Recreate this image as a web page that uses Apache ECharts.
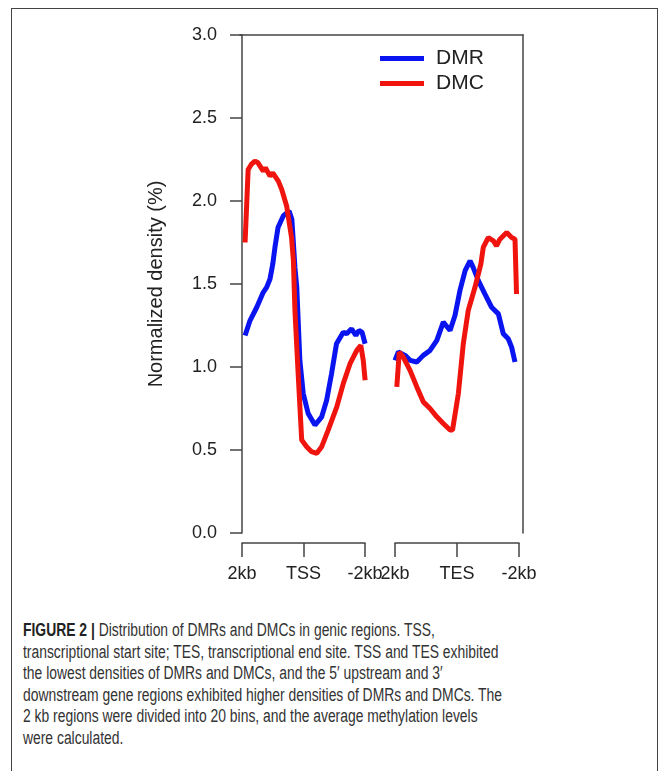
<!DOCTYPE html>
<html>
<head>
<meta charset="utf-8">
<script src="https://cdn.jsdelivr.net/npm/echarts@6/dist/echarts.min.js"></script>
<style>
  html, body { margin: 0; padding: 0; background: #fff; }
  body { width: 670px; height: 771px; position: relative; overflow: hidden; }
  #frame {
    position: absolute; left: 11px; top: 8px; width: 647px; height: 800px;
    border: 1.5px solid #444; box-sizing: border-box;
  }
  #chart { position: absolute; left: 0; top: 0; width: 670px; height: 600px; }
  #caption {
    position: absolute; left: 23px; top: 620px;
    font-family: "Liberation Sans", Arial, sans-serif; font-size: 18px;
    line-height: 21.6px; color: #333; white-space: nowrap;
  }
  #caption .line { display: block; transform-origin: 0 0; }
  #caption b { color: #222; }
</style>
</head>
<body>
<div id="frame"></div>
<div id="chart"></div>
<div id="caption">
  <span class="line"><b>FIGURE 2 |</b> Distribution of DMRs and DMCs in genic regions. TSS,</span>
  <span class="line">transcriptional start site; TES, transcriptional end site. TSS and TES exhibited</span>
  <span class="line">the lowest densities of DMRs and DMCs, and the 5′ upstream and 3′</span>
  <span class="line">downstream gene regions exhibited higher densities of DMRs and DMCs. The</span>
  <span class="line">2 kb regions were divided into 20 bins, and the average methylation levels</span>
  <span class="line">were calculated.</span>
</div>
<script>
// bins: 0..40 = 2kb upstream -> TSS -> 2kb downstream, 50..90 = 2kb before TES -> TES -> 2kb after
const tssLabels = ['2kb', 'TSS', '-2kb']
const tesLabels = ['2kb', 'TES', '-2kb']
const yTicks = { min: 0, max: 3, step: 0.5 }

const dmrTss = [[1,1.19],[2.6,1.28],[4.8,1.36],[6.9,1.45],[8,1.48],[9.1,1.53],[10,1.62],[10.7,1.72],[11.7,1.84],[13.4,1.91],[15.3,1.94],[16.2,1.89],[17.2,1.6],[17.8,1.48],[18.8,1.04],[19.9,0.84],[21.5,0.72],[23.7,0.65],[25.9,0.70],[27.5,0.80],[29.1,0.96],[30.7,1.14],[32.9,1.21],[34,1.20],[35.6,1.23],[37,1.19],[38,1.22],[39,1.21],[40,1.14]]
const dmcTss = [[1,1.75],[2,2.19],[3,2.22],[4.2,2.24],[5.2,2.23],[6.9,2.18],[7.6,2.20],[9.1,2.15],[10,2.17],[11.8,2.12],[12.9,2.07],[14.5,1.97],[16.1,1.78],[16.7,1.64],[17.2,1.34],[18.3,0.94],[19.4,0.56],[21,0.52],[22.6,0.49],[24.3,0.48],[25.9,0.52],[28,0.62],[30.8,0.76],[32.9,0.90],[35.1,1.02],[37.3,1.10],[38.6,1.13],[39.4,1.04],[40,0.92]]
const dmrTes = [[49.7,1.04],[50.8,1.09],[53,1.07],[54.6,1.04],[56.8,1.03],[58.9,1.07],[61.1,1.10],[63.3,1.16],[65.4,1.27],[67.6,1.22],[69.2,1.31],[70.8,1.46],[72.5,1.58],[74.1,1.64],[75.1,1.60],[76.8,1.52],[78.9,1.44],[81.1,1.36],[83.3,1.32],[84.9,1.20],[86.5,1.17],[87.6,1.12],[88.7,1.03]]
const dmcTes = [[50.3,0.88],[51.1,1.09],[52.4,1.06],[54.6,0.98],[56.8,0.88],[58.9,0.79],[61.1,0.75],[63.3,0.70],[65.4,0.66],[67.6,0.62],[68.4,0.62],[70.3,0.84],[71.9,1.14],[73.5,1.34],[75.7,1.48],[77.6,1.62],[78.4,1.72],[80,1.78],[81.7,1.76],[82.7,1.73],[83.8,1.77],[86,1.81],[87.6,1.78],[88.7,1.77],[89.2,1.44]]

const GAP = [[45, '-']]
const FONT = '"Liberation Sans", Arial, sans-serif'
const AXIS_COLOR = '#444'
const TEXT_COLOR = '#222'

function bracketAxis(gridIndex, labels) {
  return {
    gridIndex,
    type: 'category',
    data: labels,
    boundaryGap: false,
    position: 'bottom',
    axisLine: { show: true, lineStyle: { color: AXIS_COLOR, width: 1.5 } },
    axisTick: { show: true, length: 14, interval: 0, lineStyle: { color: AXIS_COLOR, width: 1.5 } },
    axisLabel: { interval: 0, margin: 22, color: TEXT_COLOR, fontSize: 18, fontFamily: FONT },
    splitLine: { show: false },
  }
}

function hiddenY(gridIndex) {
  return { gridIndex, type: 'value', show: false }
}

const chart = echarts.init(document.getElementById('chart'), null, { renderer: 'canvas' })

chart.setOption({
  animation: false,
  textStyle: { fontFamily: FONT },
  legend: {
    orient: 'vertical',
    left: 380,
    top: 48,
    padding: 0,
    icon: 'rect',
    itemWidth: 44,
    itemHeight: 5,
    itemGap: 4,
    textStyle: { fontSize: 21, color: TEXT_COLOR, padding: [0, 0, 0, 7] },
    data: ['DMR', 'DMC'],
  },
  grid: [
    { left: 240, top: 35, width: 283, height: 498 },
    { left: 242, top: 542, width: 123, height: 1 },
    { left: 395, top: 542, width: 124, height: 1 },
  ],
  xAxis: [
    {
      gridIndex: 0,
      type: 'value',
      min: -0.65,
      max: 91.3,
      position: 'top',
      axisLine: { show: true, onZero: false, lineStyle: { color: AXIS_COLOR, width: 1.5 } },
      axisTick: { show: false },
      axisLabel: { show: false },
      splitLine: { show: false },
    },
    bracketAxis(1, tssLabels),
    bracketAxis(2, tesLabels),
  ],
  yAxis: [
    {
      gridIndex: 0,
      type: 'value',
      min: yTicks.min,
      max: yTicks.max,
      interval: yTicks.step,
      name: 'Normalized density (%)',
      nameLocation: 'middle',
      nameGap: 74,
      nameTextStyle: { fontSize: 20, color: TEXT_COLOR },
      axisLine: { show: true, lineStyle: { color: AXIS_COLOR, width: 1.5 } },
      axisTick: { show: true, length: 12, lineStyle: { color: AXIS_COLOR, width: 1.5 } },
      axisLabel: { margin: 23, fontSize: 18, color: TEXT_COLOR, formatter: (v) => v.toFixed(1) },
      splitLine: { show: false },
    },
    {
      gridIndex: 0,
      type: 'value',
      min: yTicks.min,
      max: yTicks.max,
      position: 'right',
      axisLine: { show: true, lineStyle: { color: AXIS_COLOR, width: 1.5 } },
      axisTick: { show: false },
      axisLabel: { show: false },
      splitLine: { show: false },
    },
    hiddenY(1),
    hiddenY(2),
  ],
  series: [
    {
      name: 'DMR',
      type: 'line',
      xAxisIndex: 0,
      yAxisIndex: 0,
      data: dmrTss.concat(GAP, dmrTes),
      showSymbol: false,
      symbol: 'none',
      connectNulls: false,
      color: '#0a14f0',
      lineStyle: { width: 5, color: '#0a14f0' },
    },
    {
      name: 'DMC',
      type: 'line',
      xAxisIndex: 0,
      yAxisIndex: 0,
      data: dmcTss.concat(GAP, dmcTes),
      showSymbol: false,
      symbol: 'none',
      connectNulls: false,
      color: '#f0140f',
      lineStyle: { width: 5, color: '#f0140f' },
    },
  ],
})

// squeeze caption lines horizontally to match the condensed typeface
const lines = document.querySelectorAll('#caption .line')
const ref = lines[1].getBoundingClientRect().width
const scale = 479 / ref
lines.forEach((el) => { el.style.transform = 'scaleX(' + scale + ')' })
</script>
</body>
</html>
